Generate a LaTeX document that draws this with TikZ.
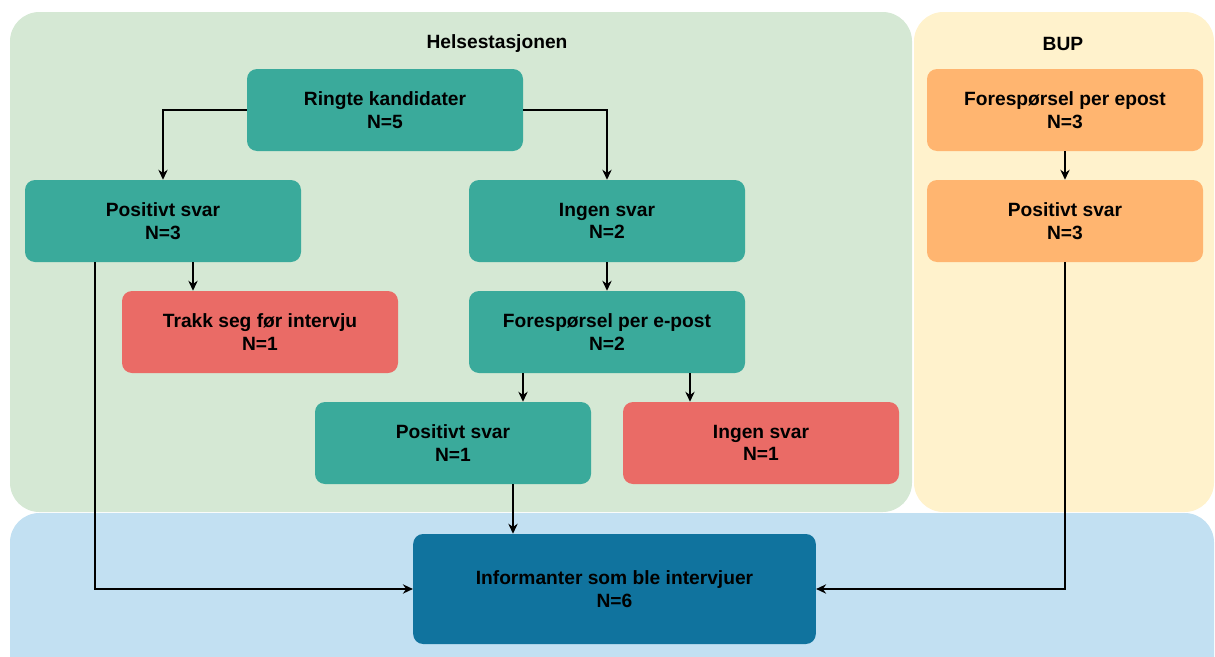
\documentclass[tikz,border=0pt]{standalone}
\usepackage{fontspec}
\setmainfont{Liberation Sans}
\usetikzlibrary{arrows.meta}
\definecolor{helsegreen}{HTML}{D5E8D4}
\definecolor{bupyellow}{HTML}{FFF2CC}
\definecolor{intervjublue}{HTML}{C2E0F2}
\definecolor{stepteal}{HTML}{3AAA9B}
\definecolor{dropred}{HTML}{EA6B66}
\definecolor{buporange}{HTML}{FFB570}
\definecolor{infoblue}{HTML}{10739E}

\begin{document}
\begin{tikzpicture}[
  x=0.75pt,
  y=-0.75pt,
  font=\bfseries\fontsize{14.4}{17}\selectfont,
  panel/.style={draw=none,rounded corners=22pt},
  flowbox/.style={draw=none,rounded corners=7.5pt,align=center,text=black,
    minimum width=207pt,minimum height=61.5pt,inner sep=0pt},
  okbox/.style={flowbox,fill=stepteal},
  outbox/.style={flowbox,fill=dropred},
  bupbox/.style={flowbox,fill=buporange},
  conn/.style={draw=black,line width=1.1pt,-{Stealth[length=7.5pt,width=7pt]}}
]
  \useasboundingbox (0,0) rectangle (1215,657);

  % Background panels for the two recruitment routes and the result.
  \begin{scope}
    \clip (0,0) rectangle (1215,657);
    \path[panel,fill=helsegreen] (10,12) rectangle (912,512);
    \path[panel,fill=bupyellow] (914,12) rectangle (1214,512);
    \path[panel,fill=intervjublue] (10,513) rectangle (1214,690);
  \end{scope}
  \node (helsetitle) at (497,44) {Helsestasjonen};
  \node (buptitle) at (1063,44) {BUP};

  % Helsestasjonen route.
  \node[okbox] (ring) at (385,110) {Ringte kandidater\\N=5};
  \node[okbox] (pos1) at (163,221) {Positivt svar\\N=3};
  \node[okbox] (ingen1) at (607,221) {Ingen svar\\N=2};
  \node[outbox] (trakk) at (260,332) {Trakk seg før intervju\\N=1};
  \node[okbox] (epost) at (607,332) {Forespørsel per e-post\\N=2};
  \node[okbox] (pos2) at (453,443) {Positivt svar\\N=1};
  \node[outbox] (ingen2) at (761,443) {Ingen svar\\N=1};

  % BUP route.
  \node[bupbox] (bupepost) at (1065,110) {Forespørsel per epost\\N=3};
  \node[bupbox] (buppos) at (1065,221) {Positivt svar\\N=3};

  % Result.
  \node[flowbox,fill=infoblue,minimum width=302pt,minimum height=82.5pt]
    (info) at (614.5,589) {Informanter som ble intervjuer\\N=6};

  % Connectors.
  \coordinate (p1trakk) at ([xshift=22.5pt]pos1.south);
  \coordinate (p1info) at ([xshift=-51pt]pos1.south);
  \coordinate (epostpos) at ([xshift=-63pt]epost.south);
  \coordinate (epostingen) at ([xshift=62.25pt]epost.south);
  \coordinate (p2info) at ([xshift=45pt]pos2.south);

  \draw[conn] (ring.west) -| (pos1.north);
  \draw[conn] (ring.east) -| (ingen1.north);
  \draw[conn] (p1trakk) -- (p1trakk |- trakk.north);
  \draw[conn] (p1info) |- (info.west);
  \draw[conn] (ingen1.south) -- (epost.north);
  \draw[conn] (epostpos) -- (epostpos |- pos2.north);
  \draw[conn] (epostingen) -- (epostingen |- ingen2.north);
  \draw[conn] (p2info) -- (p2info |- info.north);
  \draw[conn] (bupepost.south) -- (buppos.north);
  \draw[conn] (buppos.south) |- (info.east);
\end{tikzpicture}
\end{document}
